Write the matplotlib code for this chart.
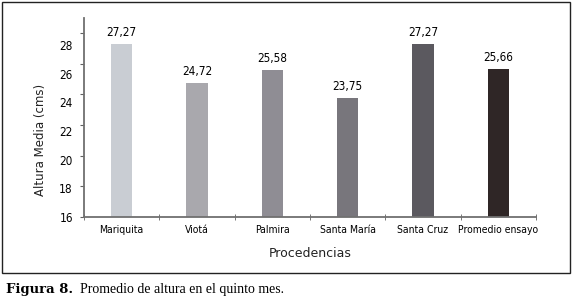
import numpy as np
import matplotlib
matplotlib.use('Agg')
from matplotlib import pyplot as plt, transforms
from matplotlib.patches import Rectangle

# Data
procedencias = ['Mariquita', 'Viotá', 'Palmira', 'Santa María', 'Santa Cruz', 'Promedio ensayo']
altura = [27.27, 24.72, 25.58, 23.75, 27.27, 25.66]
etiquetas = ['27,27', '24,72', '25,58', '23,75', '27,27', '25,66']
colores = ['#c9cdd3', '#a9a8ad', '#8f8d94', '#78767c', '#5b595f', '#2f2626']
yticks = [16, 18, 20, 22, 24, 26, 28]

plt.rcParams['font.family'] = ['DejaVu Sans']
plt.rcParams['font.stretch'] = 'condensed'

fig = plt.figure(figsize=(5.73, 3.06), dpi=100)
ax = fig.add_axes([0.1466, 0.2908, 0.7888, 0.650])

x = np.arange(len(procedencias))
ax.bar(x, altura, width=0.28, color=colores, bottom=0, zorder=2)
for xi, h, lab in zip(x, altura, etiquetas):
    ax.text(xi, h + 0.35, lab, ha='center', va='bottom', fontsize=8.5)

ax.set_xlim(-0.5, len(procedencias) - 0.5)
ax.set_ylim(16, 28.98)
ax.set_yticks(yticks)
ax.set_xticks(x)
ax.set_xticklabels(procedencias, fontsize=7.5)
ax.set_xticks(np.arange(-0.5, len(procedencias)), minor=True)
ax.tick_params(axis='x', which='major', length=0, pad=6)
ax.tick_params(axis='x', which='minor', length=4, direction='inout', color='#606060')
ax.tick_params(axis='y', length=3, color='#606060', labelsize=8.5, pad=5)

# in the original the y tick labels drift below their tick marks going up
for v, lab in zip(yticks, ax.get_yticklabels()):
    shift = transforms.ScaledTranslation(0, -(v - 16) * 1.0 / 100, fig.dpi_scale_trans)
    lab.set_transform(lab.get_transform() + shift)

for s in ['top', 'right']:
    ax.spines[s].set_visible(False)
for s in ['left', 'bottom']:
    ax.spines[s].set_color('#707070')
    ax.spines[s].set_linewidth(1.3)

fig.text(0.070, 0.542, 'Altura Media (cms)', rotation=90, ha='center', va='center',
         fontsize=8.5, color='#222222', stretch='normal')
fig.text(0.541, 0.173, 'Procedencias', ha='center', va='center', fontsize=9,
         color='#222222', stretch='normal')

fig.patches.append(Rectangle((2 / 573, 1 - 273 / 306), 568 / 573, 271 / 306,
                             transform=fig.transFigure, fill=False,
                             edgecolor='#222222', linewidth=1.0))

fig.text(0.010, 0.055, 'Figura 8.', fontsize=9.5, fontweight='bold',
         family=['DejaVu Serif'], stretch='normal', va='center')
fig.text(0.139, 0.055, 'Promedio de altura en el quinto mes.', fontsize=10,
         family=['Liberation Serif', 'DejaVu Serif'], stretch='normal', va='center')

fig.savefig('out.png', dpi=100)
